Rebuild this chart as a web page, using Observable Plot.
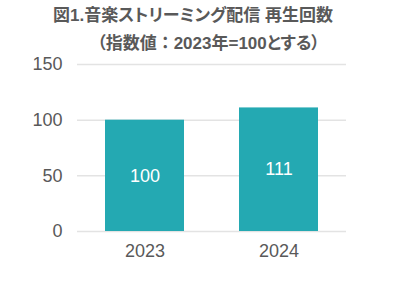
<!DOCTYPE html>
<html><head><meta charset="utf-8">
<script src="https://cdn.jsdelivr.net/npm/d3@7"></script>
<script src="https://cdn.jsdelivr.net/npm/@observablehq/plot@0.6"></script>
<style>
body{margin:0;background:#fff;}
#wrap{position:relative;width:400px;height:285px;}
#title{position:absolute;left:0;top:0;width:386px;text-align:center;font-family:"Liberation Sans","Noto Sans CJK JP",sans-serif;font-weight:bold;color:#595959;font-size:17px;font-feature-settings:"palt";}
#title div{height:28px;line-height:28px;white-space:nowrap;}
#title .fw{font-feature-settings:normal;}
#chart{position:absolute;left:0;top:0;}
</style></head><body>
<div id="wrap"><div id="chart"></div><div id="title"><div style="margin-top:2px">図1.音楽ストリーミング配信 再生回数</div><div style="padding-left:31px">（指数値<span class="fw">：</span>2023年=100とする）</div></div></div>
<script>
const years = ["2023", "2024"];
const values = [100, 111];
const yTicks = [0, 50, 100, 150];
const data = years.map((y, i) => ({year: y, value: values[i]}));
const plot = Plot.plot({
  width: 400, height: 285,
  marginTop: 64, marginBottom: 54, marginLeft: 77, marginRight: 54,
  style: {fontFamily: "'Liberation Sans', Arial, sans-serif", color: "#595959", background: "#fff"},
  x: {domain: years, paddingInner: 0.41, paddingOuter: 0.205, label: null},
  y: {domain: [0, 150], label: null},
  marks: [
    Plot.gridY(yTicks, {stroke: "#e3e3e3", strokeOpacity: 1, strokeWidth: 1.5}),
    Plot.axisY(yTicks, {tickSize: 0, tickPadding: 15, fontSize: 18, fill: "#595959", label: null}),
    Plot.axisX({tickSize: 0, tickPadding: 13, fontSize: 18, fill: "#595959", label: null}),
    Plot.barY(data, {x: "year", y: "value", fill: "#24A9B2"}),
    Plot.text(data, {x: "year", y: d => d.value / 2, text: d => String(d.value), fill: "#fff", fontSize: 18})
  ]
});
document.getElementById("chart").appendChild(plot);
</script>
</body></html>
